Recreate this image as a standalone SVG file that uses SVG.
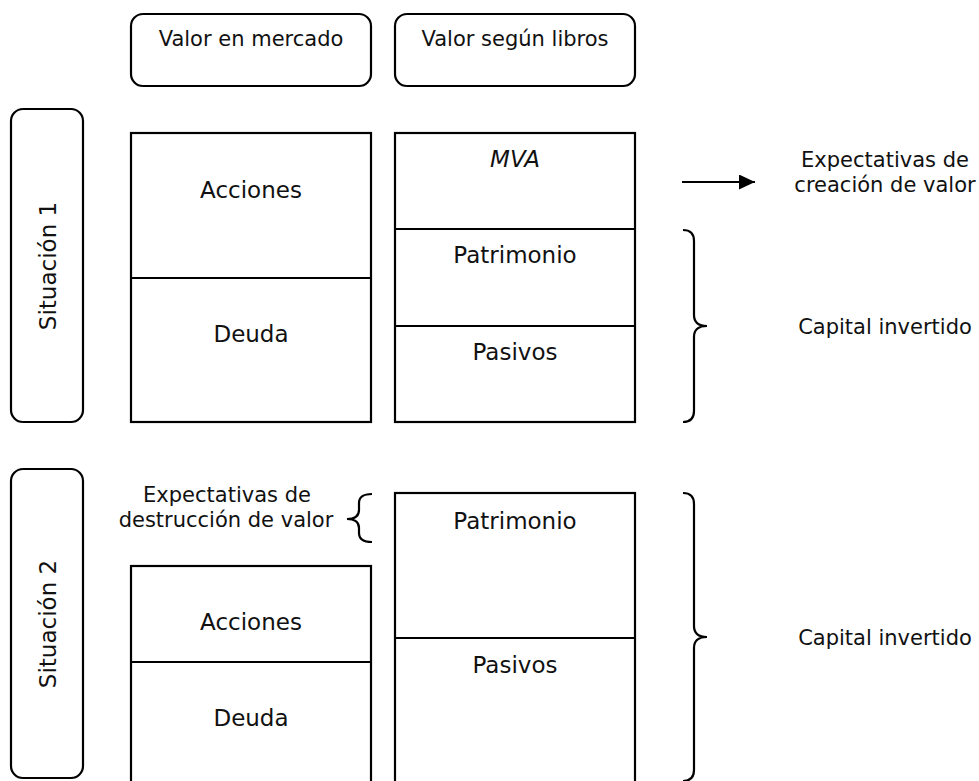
<svg xmlns="http://www.w3.org/2000/svg" width="979" height="781" viewBox="0 0 979 781">
  <style>
    .frame { fill: #fff; stroke: #000; stroke-width: 2.2; }
    .rule { stroke: #000; stroke-width: 2.2; fill: none; }
    .brace { stroke: #000; stroke-width: 2.2; fill: none; }
    text { font-family: "DejaVu Sans", Verdana, sans-serif; fill: #111; text-anchor: middle; }
    .head { font-size: 21px; }
    .lbl { font-size: 23px; }
    .side { font-size: 21px; }
    .sit { font-size: 23px; }
  </style>
  <defs>
    <marker id="arrowhead" markerWidth="16" markerHeight="15" refX="16" refY="7.5" orient="auto" markerUnits="userSpaceOnUse">
      <path d="M0,0 L16,7.5 L0,15 Z" fill="#000"/>
    </marker>
  </defs>
  <rect width="979" height="781" fill="#fff"/>

  <!-- column headers -->
  <g id="hdr-mercado">
    <rect class="frame" x="131" y="14" width="240" height="72" rx="12"/>
    <text class="head" x="251" y="46">Valor en mercado</text>
  </g>
  <g id="hdr-libros">
    <rect class="frame" x="395" y="14" width="240" height="72" rx="12"/>
    <text class="head" x="515" y="46">Valor según libros</text>
  </g>

  <!-- scenario 1 -->
  <g id="sit1">
    <rect class="frame" x="11" y="109" width="72" height="313" rx="12"/>
    <text class="sit" transform="translate(56,266) rotate(-90)">Situación 1</text>
  </g>
  <g id="s1-mercado">
    <rect class="frame" x="131" y="133" width="240" height="289"/>
    <line class="rule" x1="131" y1="278" x2="371" y2="278"/>
    <text class="lbl" x="251" y="198">Acciones</text>
    <text class="lbl" x="251" y="342">Deuda</text>
  </g>
  <g id="s1-libros">
    <rect class="frame" x="395" y="133" width="240" height="289"/>
    <line class="rule" x1="395" y1="229" x2="635" y2="229"/>
    <line class="rule" x1="395" y1="326" x2="635" y2="326"/>
    <text class="lbl" x="515" y="167" font-style="italic">MVA</text>
    <text class="lbl" x="515" y="263">Patrimonio</text>
    <text class="lbl" x="515" y="360">Pasivos</text>
  </g>
  <g id="s1-creacion">
    <text class="side" x="885" y="167">Expectativas de</text>
    <text class="side" x="885" y="192">creación de valor</text>
  </g>
  <g id="s1-capital">
    <text class="side" x="885" y="334">Capital invertido</text>
  </g>

  <!-- scenario 2 -->
  <g id="sit2">
    <rect class="frame" x="11" y="469" width="72" height="309" rx="12"/>
    <text class="sit" transform="translate(56,624) rotate(-90)">Situación 2</text>
  </g>
  <g id="s2-destruccion">
    <text class="side" x="227" y="502">Expectativas de</text>
    <text class="side" x="226" y="527">destrucción de valor</text>
  </g>
  <g id="s2-mercado">
    <rect class="frame" x="131" y="566" width="240" height="240"/>
    <line class="rule" x1="131" y1="662" x2="371" y2="662"/>
    <text class="lbl" x="251" y="630">Acciones</text>
    <text class="lbl" x="251" y="726">Deuda</text>
  </g>
  <g id="s2-libros">
    <rect class="frame" x="395" y="493" width="240" height="310"/>
    <line class="rule" x1="395" y1="638" x2="635" y2="638"/>
    <text class="lbl" x="515" y="529">Patrimonio</text>
    <text class="lbl" x="515" y="673">Pasivos</text>
  </g>
  <g id="s2-capital">
    <text class="side" x="885" y="645">Capital invertido</text>
  </g>

  <!-- connectors: arrow and braces -->
  <g id="connectors">
    <line class="rule" x1="682" y1="182" x2="755" y2="182" marker-end="url(#arrowhead)"/>
    <path class="brace" d="M683,230 Q694,230 694,241 L694,315 Q694,326 707,326 Q694,326 694,337 L694,411 Q694,422 683,422"/>
    <path class="brace" d="M683,493 Q694,493 694,504 L694,626 Q694,637 707,637 Q694,637 694,648 L694,770 Q694,781 683,781"/>
    <path class="brace" d="M372,494 Q359,494 359,503 L359,510 Q359,519 347,519 Q359,519 359,528 L359,533 Q359,542 372,542"/>
  </g>
</svg>
